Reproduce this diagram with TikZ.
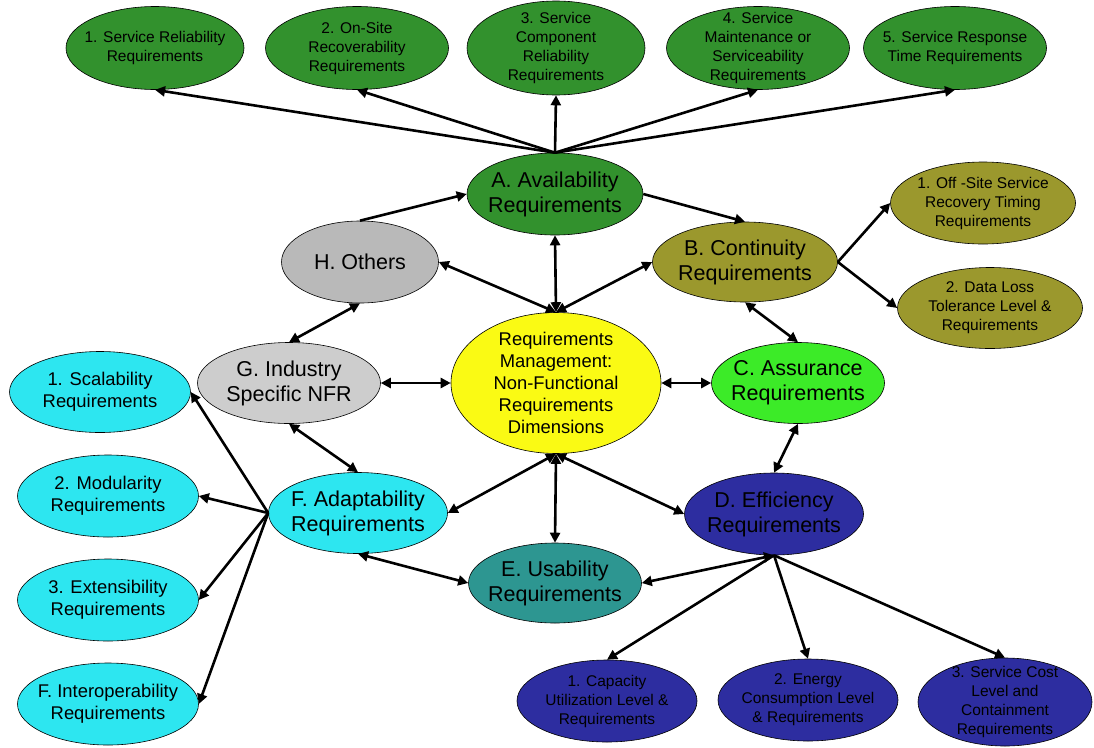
\documentclass[tikz,border=0pt]{standalone}
\usepackage{fontspec}
\setmainfont{Liberation Sans}
\usetikzlibrary{shapes.geometric, arrows.meta}
\definecolor{darkgreen}{RGB}{50,145,45}
\definecolor{olive}{RGB}{155,152,45}
\definecolor{limegreen}{RGB}{60,235,40}
\definecolor{navyblue}{RGB}{45,45,160}
\definecolor{teal}{RGB}{45,150,145}
\definecolor{cyanblue}{RGB}{45,230,240}
\definecolor{lightgrey}{RGB}{205,205,205}
\definecolor{midgrey}{RGB}{185,185,185}
\definecolor{coreyellow}{RGB}{250,250,20}
\tikzstyle{bubble} = [ellipse, draw=black, line width=0.6pt, inner sep=0pt]
\tikzstyle{smalltext} = [font=\fontsize{15.5}{19}\selectfont, align=center, inner sep=0pt]
\tikzstyle{midtext} = [font=\fontsize{18.4}{22}\selectfont, align=center, inner sep=0pt]
\tikzstyle{bigtext} = [font=\fontsize{21.5}{25}\selectfont, align=center, inner sep=0pt]
\tikzstyle{arrow} = [line width=2.6pt, -{Triangle[length=10pt,width=10pt]}]
\tikzstyle{link} = [line width=2.6pt, {Triangle[length=10pt,width=10pt]}-{Triangle[length=10pt,width=10pt]}]

\begin{document}
\begin{tikzpicture}[x=1pt, y=-1pt]
    \useasboundingbox (0,0) rectangle (1094,747);
    % availability sub-requirements
    \node (reliab) [bubble, fill=darkgreen, minimum width=178pt, minimum height=83pt, label={[smalltext]center:{1. Service Reliability\\Requirements}}] at (155,48) {};
    \node (recover) [bubble, fill=darkgreen, minimum width=183pt, minimum height=83pt, label={[smalltext]center:{2. On-Site\\Recoverability\\Requirements}}] at (357,48) {};
    \node (component) [bubble, fill=darkgreen, minimum width=178pt, minimum height=94pt, label={[smalltext]center:{3. Service\\Component\\Reliability\\Requirements}}] at (556,48) {};
    \node (maint) [bubble, fill=darkgreen, minimum width=183pt, minimum height=83pt, label={[smalltext]center:{4. Service\\Maintenance or\\Serviceability\\Requirements}}] at (758,48) {};
    \node (response) [bubble, fill=darkgreen, minimum width=183pt, minimum height=83pt, label={[smalltext]center:{5. Service Response\\Time Requirements}}] at (955,48) {};

    % main dimensions
    \node (avail) [bubble, fill=darkgreen, minimum width=176pt, minimum height=82pt, label={[bigtext]center:{A. Availability\\Requirements}}] at (555,194) {};
    \node (others) [bubble, fill=midgrey, minimum width=157pt, minimum height=82pt, label={[bigtext]center:{H. Others}}] at (360,262) {};
    \node (contin) [bubble, fill=olive, minimum width=185pt, minimum height=80pt, label={[bigtext]center:{B. Continuity\\Requirements}}] at (745,262) {};
    \node (industry) [bubble, fill=lightgrey, minimum width=183pt, minimum height=81pt, label={[bigtext]center:{G. Industry\\Specific NFR}}] at (289,383) {};
    \node (core) [bubble, fill=coreyellow, minimum width=210pt, minimum height=141pt, label={[midtext]center:{Requirements\\Management:\\Non-Functional\\Requirements\\Dimensions}}] at (556,383) {};
    \node (assur) [bubble, fill=limegreen, minimum width=173pt, minimum height=81pt, label={[bigtext]center:{C. Assurance\\Requirements}}] at (798,383) {};
    \node (effic) [bubble, fill=navyblue, minimum width=179pt, minimum height=82pt, label={[bigtext]center:{D. Efficiency\\Requirements}}] at (774,514) {};
    \node (adapt) [bubble, fill=cyanblue, minimum width=179pt, minimum height=81pt, label={[bigtext]center:{F. Adaptability\\Requirements}}] at (358,513) {};
    \node (usab) [bubble, fill=teal, minimum width=173pt, minimum height=80pt, label={[bigtext]center:{E. Usability\\Requirements}}] at (555,583) {};

    % continuity sub-requirements
    \node (offsite) [bubble, fill=olive, minimum width=185pt, minimum height=82pt, label={[smalltext]center:{1. Off -Site Service\\Recovery Timing\\Requirements}}] at (983,203) {};
    \node (dataloss) [bubble, fill=olive, minimum width=185pt, minimum height=81pt, label={[smalltext]center:{2. Data Loss\\Tolerance Level \&\\Requirements}}] at (990,308) {};

    % adaptability sub-requirements
    \node (scal) [bubble, fill=cyanblue, minimum width=181pt, minimum height=81pt, label={[midtext]center:{1. Scalability\\Requirements}}] at (100,392) {};
    \node (modul) [bubble, fill=cyanblue, minimum width=181pt, minimum height=82pt, label={[midtext]center:{2. Modularity\\Requirements}}] at (108,496) {};
    \node (extens) [bubble, fill=cyanblue, minimum width=181pt, minimum height=82pt, label={[midtext]center:{3. Extensibility\\Requirements}}] at (108,600) {};
    \node (interop) [bubble, fill=cyanblue, minimum width=181pt, minimum height=82pt, label={[midtext]center:{F. Interoperability\\Requirements}}] at (108,704) {};

    % efficiency sub-requirements
    \node (capac) [bubble, fill=navyblue, minimum width=180pt, minimum height=82pt, label={[smalltext]center:{1. Capacity\\Utilization Level \&\\Requirements}}] at (607,701) {};
    \node (energy) [bubble, fill=navyblue, minimum width=180pt, minimum height=82pt, label={[smalltext]center:{2. Energy\\Consumption Level\\\& Requirements}}] at (808,700) {};
    \node (cost) [bubble, fill=navyblue, minimum width=174pt, minimum height=88pt, label={[smalltext]center:{3. Service Cost\\Level and\\Containment\\Requirements}}] at (1005,702) {};

    \draw [arrow] (avail.north) -- (reliab.south);
    \draw [arrow] (avail.north) -- (recover.south);
    \draw [arrow] (avail.north) -- (component.south);
    \draw [arrow] (avail.north) -- (maint.south);
    \draw [arrow] (avail.north) -- (response.south);
    \draw [arrow] (others.north) -- (avail.west);
    \draw [arrow] (avail.east) -- (contin.north);
    \draw [arrow] (contin.east) -- (offsite.west);
    \draw [arrow] (contin.east) -- (dataloss.west);
    \draw [link] (core.north) -- (others.east);
    \draw [link] (core.north) -- (avail.south);
    \draw [link] (core.north) -- (contin.west);
    \draw [link] (contin.south) -- (assur.north);
    \draw [link] (core.east) -- (assur.west);
    \draw [link] (assur.south) -- (effic.north);
    \draw [link] (core.south) -- (effic.west);
    \draw [link] (core.south) -- (usab.north);
    \draw [link] (core.south) -- (adapt.east);
    \draw [link] (core.west) -- (industry.east);
    \draw [link] (industry.north) -- (others.south);
    \draw [link] (industry.south) -- (adapt.north);
    \draw [link] (adapt.south) -- (usab.west);
    \draw [link] (effic.south) -- (usab.east);
    \draw [arrow] (adapt.west) -- (scal.east);
    \draw [arrow] (adapt.west) -- (modul.east);
    \draw [arrow] (adapt.west) -- (extens.east);
    \draw [arrow] (adapt.west) -- (interop.east);
    \draw [arrow] (effic.south) -- (capac.north);
    \draw [arrow] (effic.south) -- (energy.north);
    \draw [arrow] (effic.south) -- (cost.north);
\end{tikzpicture}
\end{document}
